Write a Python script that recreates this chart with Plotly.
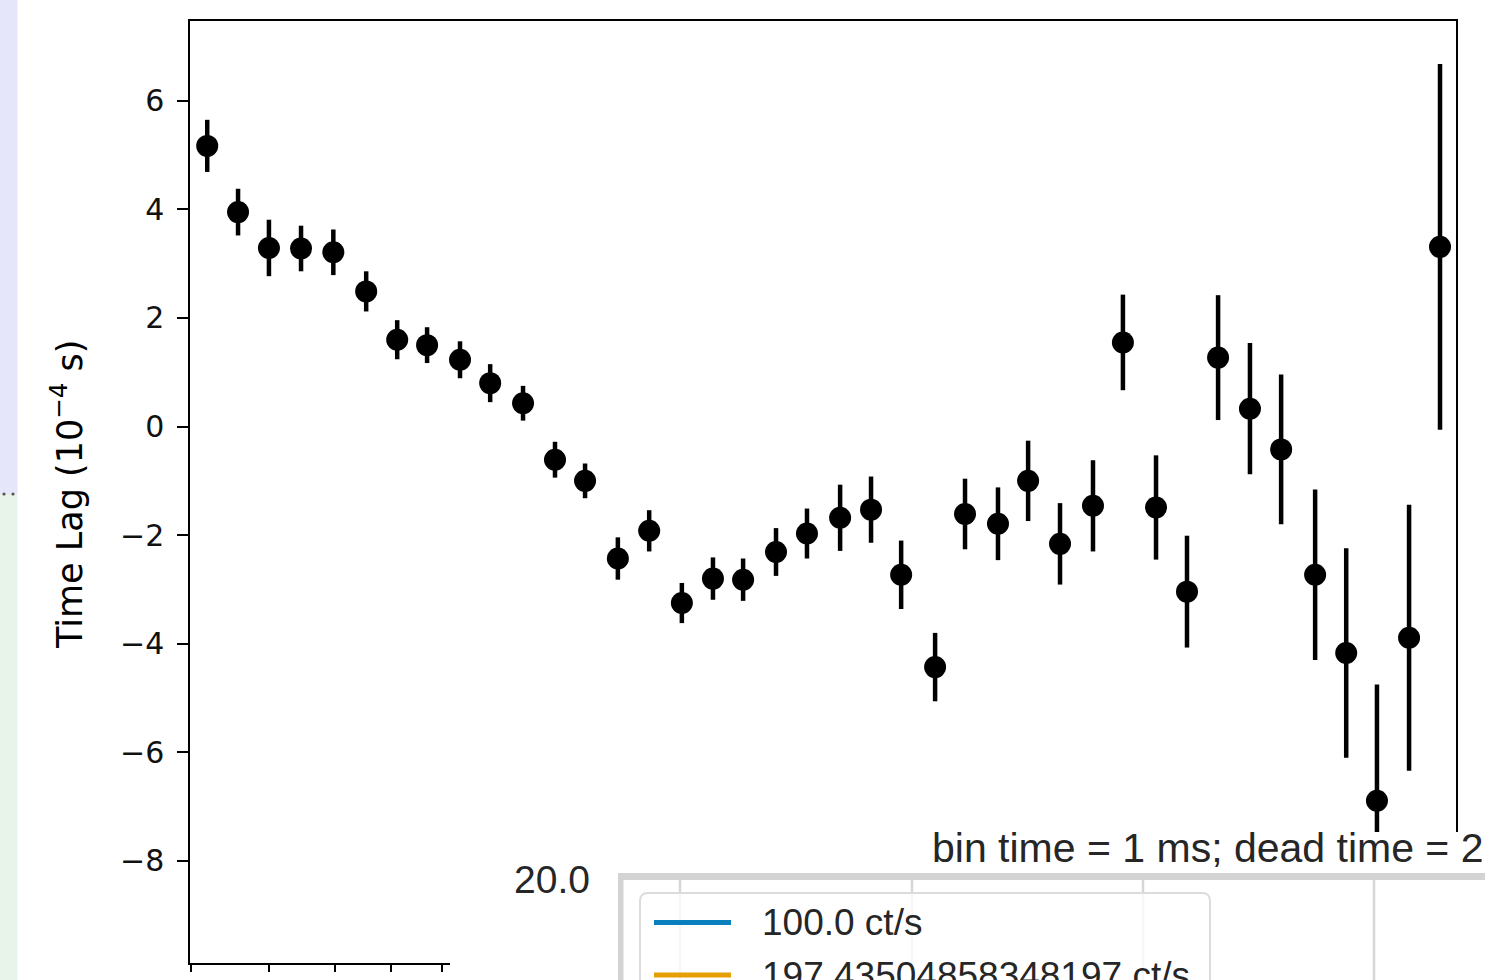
import plotly.graph_objects as go

# ---------------- data ----------------
freq = [5.19, 5.58, 6.00, 6.47, 6.98, 7.54, 8.11, 8.70, 9.40, 10.09,
        10.90, 11.75, 12.61, 13.62, 14.66, 15.83, 17.03, 18.28, 19.75, 21.24,
        22.96, 24.69, 26.50, 28.70, 30.79, 33.27, 35.71, 38.49, 41.59, 44.62,
        48.23, 51.87, 55.80, 60.14, 64.71, 70.09, 75.40, 81.05, 87.40, 93.99]
time_lag = [5.17, 3.95, 3.29, 3.28, 3.21, 2.49, 1.60, 1.50, 1.23, 0.80,
            0.43, -0.61, -1.00, -2.43, -1.92, -3.25, -2.80, -2.82, -2.31, -1.97,
            -1.68, -1.53, -2.73, -4.43, -1.61, -1.79, -1.00, -2.16, -1.46, 1.55,
            -1.49, -3.04, 1.27, 0.33, -0.42, -2.73, -4.17, -6.89, -3.89, 3.31]
lag_err = [0.48, 0.43, 0.52, 0.42, 0.42, 0.37, 0.36, 0.33, 0.34, 0.35,
           0.32, 0.33, 0.32, 0.39, 0.38, 0.37, 0.39, 0.39, 0.44, 0.46,
           0.61, 0.61, 0.63, 0.63, 0.65, 0.67, 0.74, 0.75, 0.84, 0.88,
           0.96, 1.03, 1.15, 1.21, 1.38, 1.57, 1.93, 2.14, 2.45, 3.37]

y_ticks = [-8, -6, -4, -2, 0, 2, 4, 6]
y_ticktext = ["\u22128", "\u22126", "\u22124", "\u22122", "0", "2", "4", "6"]
x_major = [10, 100]
x_minor = [5, 6, 7, 8, 9, 20, 30, 40, 50, 60, 70, 80, 90]

y_title = "Time Lag (10<sup>\u22124</sup> s)"

# overlapping second panel (partially visible)
panel_title = "bin time = 1 ms; dead time = 2"
panel_ytick = "20.0"
legend_labels = ["100.0 ct/s", "197.43504858348197 ct/s"]
legend_colors = ["#0a7fbe", "#e69f00"]

# ---------------- layout geometry ----------------
W, H = 1485, 980
PL, PR, PT, PB = 190, 1456, 21, 963


def X(px):
    return (px - PL) / (PR - PL)


def Y(py):
    return (PB - py) / (PB - PT)


fig = go.Figure()
fig.add_trace(go.Scatter(
    x=freq, y=time_lag, mode="markers",
    marker=dict(color="black", size=22),
    error_y=dict(type="data", array=lag_err, color="black", thickness=4.5, width=0),
    showlegend=False,
))

shapes = []
annotations = []

# left strip remnants
shapes.append(dict(type="rect", xref="paper", yref="paper", x0=X(-5), x1=X(17.5), y0=Y(494), y1=Y(-5),
                   fillcolor="#e6e6fa", line=dict(width=0), layer="above"))
shapes.append(dict(type="rect", xref="paper", yref="paper", x0=X(-5), x1=X(17.5), y0=Y(990), y1=Y(494),
                   fillcolor="#e8f3e9", line=dict(width=0), layer="above"))
for cx in (4, 13):
    shapes.append(dict(type="circle", xref="paper", yref="paper", x0=X(cx - 1.6), x1=X(cx + 1.6),
                       y0=Y(495.6), y1=Y(492.4), fillcolor="#555555", line=dict(width=0), layer="above"))

# white cover of the second panel
shapes.append(dict(type="rect", xref="paper", yref="paper", x0=X(450), x1=X(1495), y0=Y(995), y1=Y(832),
                   fillcolor="white", line=dict(width=0), layer="above"))
# vertical gridlines of second panel
for gx in (680, 912, 1143, 1374):
    shapes.append(dict(type="line", xref="paper", yref="paper", x0=X(gx), x1=X(gx), y0=Y(880), y1=Y(995),
                       line=dict(color="#d6d6d6", width=2.5), layer="above"))
# frame of second panel
shapes.append(dict(type="rect", xref="paper", yref="paper", x0=X(618), x1=X(1495), y0=Y(880), y1=Y(873),
                   fillcolor="#d3d3d3", line=dict(width=0), layer="above"))
shapes.append(dict(type="rect", xref="paper", yref="paper", x0=X(618), x1=X(623.5), y0=Y(995), y1=Y(873),
                   fillcolor="#d3d3d3", line=dict(width=0), layer="above"))
# legend box with rounded top corners
lx0, lx1, lyt, lyb = X(640), X(1210), Y(893), Y(1000)
rx, ry = 8 / (PR - PL), 8 / (PB - PT)
path = (f"M {lx0},{lyb} L {lx0},{lyt - ry} Q {lx0},{lyt} {lx0 + rx},{lyt} "
        f"L {lx1 - rx},{lyt} Q {lx1},{lyt} {lx1},{lyt - ry} L {lx1},{lyb} Z")
shapes.append(dict(type="path", xref="paper", yref="paper", path=path,
                   fillcolor="rgba(255,255,255,0.8)", line=dict(color="#dcdcdc", width=2), layer="above"))
# legend entries
for i, (lab, col) in enumerate(zip(legend_labels, legend_colors)):
    yy = 922.5 + 52.5 * i
    shapes.append(dict(type="line", xref="paper", yref="paper", x0=X(654), x1=X(731), y0=Y(yy), y1=Y(yy),
                       line=dict(color=col, width=5), layer="above"))
    annotations.append(dict(xref="paper", yref="paper", x=X(760), y=Y(yy), text=lab, showarrow=False,
                            xanchor="left", yanchor="middle",
                            font=dict(family="Liberation Sans", size=37, color="#262626")))

annotations.append(dict(xref="paper", yref="paper", x=X(930), y=Y(848), text=panel_title, showarrow=False,
                        xanchor="left", yanchor="middle",
                        font=dict(family="Liberation Sans", size=41, color="#262626")))
annotations.append(dict(xref="paper", yref="paper", x=X(592), y=Y(879), text=panel_ytick, showarrow=False,
                        xanchor="right", yanchor="middle",
                        font=dict(family="Liberation Sans", size=39, color="#262626")))
# y-axis title
annotations.append(dict(xref="paper", yref="paper", x=X(67), y=Y(495), text=y_title, showarrow=False,
                        textangle=-90, xanchor="center", yanchor="middle",
                        font=dict(family="DejaVu Sans", size=35, color="black")))

fig.update_layout(
    width=W, height=H, autosize=False,
    margin=dict(l=PL, r=W - PR, t=PT, b=H - PB, pad=0),
    paper_bgcolor="white", plot_bgcolor="white",
    shapes=shapes, annotations=annotations,
    font=dict(family="DejaVu Sans", size=30, color="black"),
)
fig.update_xaxes(
    type="log", range=[0.6976, 1.9894], automargin=False,
    showgrid=False, zeroline=False,
    showline=True, linecolor="black", linewidth=2.4, mirror=True,
    ticks="outside", ticklen=10.5, tickwidth=2.4, tickcolor="black",
    tickmode="array", tickvals=x_major, showticklabels=False,
    minor=dict(tickmode="array", tickvals=x_minor, ticks="outside", ticklen=6.5,
               tickwidth=1.8, tickcolor="black", showgrid=False),
)
fig.update_yaxes(
    range=[-9.88, 7.47], automargin=False,
    showgrid=False, zeroline=False,
    showline=True, linecolor="black", linewidth=2.4, mirror=True,
    ticks="outside", ticklen=10.5, tickwidth=2.4, tickcolor="black",
    tickmode="array", tickvals=y_ticks, ticktext=y_ticktext,
    ticklabelstandoff=7,
    tickfont=dict(family="DejaVu Sans", size=30, color="#111111"),
)

fig.write_html("out.html")
